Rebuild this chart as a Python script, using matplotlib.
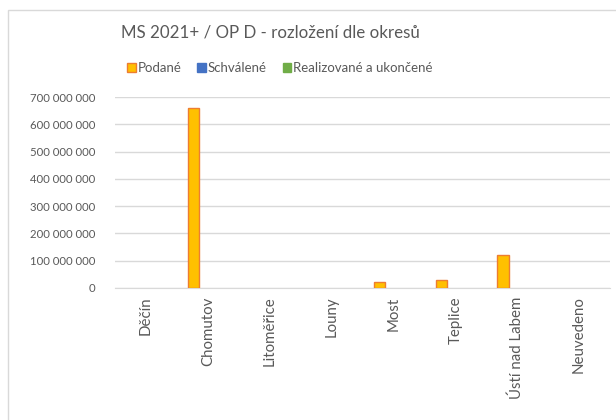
import numpy as np
import matplotlib
matplotlib.use("Agg")
from matplotlib import pyplot as plt
from matplotlib.patches import Rectangle
from matplotlib.ticker import FuncFormatter

# data
okresy = ["Děčín", "Chomutov", "Litoměřice", "Louny", "Most", "Teplice", "Ústí nad Labem", "Neuvedeno"]
podane = [0, 661000000, 0, 0, 22000000, 30000000, 120000000, 0]
schvalene = [0, 0, 0, 0, 0, 0, 0, 0]
realizovane = [0, 0, 0, 0, 0, 0, 0, 0]
series_names = ["Podané", "Schválené", "Realizované a ukončené"]
colors = ["#FFC000", "#4472C4", "#70AD47"]
edges = ["#ED7D31", "#4472C4", "#70AD47"]

plt.rcParams['font.family'] = ['Lato', 'DejaVu Sans']
grey = "#595959"

fig = plt.figure(figsize=(6.16, 4.2), dpi=100)
# chart border like excel
fig.patches.append(Rectangle((8/616, -0.01), 1.0, 1 - 10/420 + 0.01, transform=fig.transFigure,
                             fill=False, edgecolor="#d9d9d9", linewidth=1))

ax = fig.add_axes([115/616, 1 - 288/420, 495/616, 191/420])
x = np.arange(len(okresy))
w = 0.18
off = 0.23
for i, vals in enumerate([podane, schvalene, realizovane]):
    # no outline on empty bars (excel draws nothing there)
    ec = [edges[i] if v > 0 else "none" for v in vals]
    ax.bar(x + (i - 1) * off, vals, w, color=colors[i], edgecolor=ec, linewidth=1,
           label=series_names[i], zorder=3)

ax.set_xlim(-0.5, len(okresy) - 0.5)
ax.set_ylim(0, 700000000)
ax.set_yticks(np.arange(0, 700000001, 100000000))
ax.yaxis.set_major_formatter(FuncFormatter(lambda v, p: f"{int(v):,}".replace(",", " ")))
ax.set_xticks(x)
ax.set_xticklabels(okresy, rotation=90)
ax.tick_params(axis="both", length=0, colors=grey)
ax.tick_params(axis="y", pad=14, labelsize=8.2)
ax.tick_params(axis="x", pad=6, labelsize=10.8)
ax.grid(axis="y", color="#d9d9d9", linewidth=1, zorder=0)
for s in ["top", "right", "left"]:
    ax.spines[s].set_visible(False)
ax.spines["bottom"].set_color("#d9d9d9")

fig.text(270/616, 1 - 33/420, "MS 2021+ / OP D - rozložení dle okresů", ha="center", va="center",
         fontsize=12.2, color=grey)

handles = [Rectangle((0, 0), 1, 1, facecolor=colors[i], edgecolor=edges[i]) for i in range(3)]
fig.legend(handles, series_names, loc="center", bbox_to_anchor=(280/616, 1 - 68/420), ncol=3,
           frameon=False, fontsize=9.5, labelcolor=grey, handlelength=0.65, handleheight=0.65,
           handletextpad=0.15, columnspacing=1.2)

fig.savefig("out.png", dpi=100)
